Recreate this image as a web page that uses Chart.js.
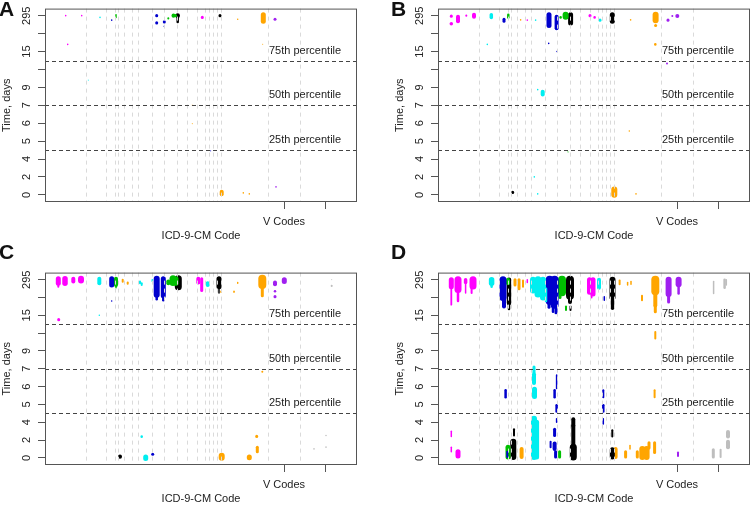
<!DOCTYPE html>
<html>
<head>
  <meta charset="UTF-8" />
  <title>Time to code by ICD-9-CM chapter</title>
  <script src="https://cdn.jsdelivr.net/npm/chart.js"></script>
  <style>
    body {
      margin: 0;
      background: #fff;
      font-family: "Liberation Sans", Arial, sans-serif;
    }

    #wrap {
      position: relative;
      width: 750px;
      height: 506px;
      overflow: hidden;
    }

    canvas {
      position: absolute;
    }

    .tag {
      position: absolute;
      font-weight: bold;
      font-size: 21px;
      line-height: 21px;
      color: #111;
    }
  </style>
</head>
<body>
  <div id="wrap">
    <canvas id="chartA" width="375" height="247" style="left:-18px;top:0"></canvas>
    <canvas id="chartB" width="375" height="247" style="left:375px;top:0"></canvas>
    <canvas id="chartC" width="375" height="246" style="left:-18px;top:264px"></canvas>
    <canvas id="chartD" width="375" height="246" style="left:375px;top:264px"></canvas>
    <div class="tag" style="left:-1px;top:-2px">A</div>
    <div class="tag" style="left:391px;top:-2px">B</div>
    <div class="tag" style="left:-1px;top:241px">C</div>
    <div class="tag" style="left:391px;top:241px">D</div>
  </div>

  <script>
    // y axis is an ordinal time scale: tick index -> label
    const yTickIdx = [0, 1, 2, 3, 4, 5, 6, 7, 8, 9, 10];
    const yTickLabels = ['0', '2', '4', '5', '6', '7', '9', '', '15', '', '295'];

    // x axis: position along the ordered ICD-9-CM codes
    const xTickVals = [239, 280];
    const xTickLabels = ['V Codes', ''];
    const codeBreaks = [41.3, 61, 69.7, 72.7, 78.7, 86.7, 93.3, 107.3, 119.3, 132, 141.7,
                        152.3, 160, 164.3, 168.3, 171.7, 175.7, 223.3, 255];

    const pctLevels = [7.5, 5, 2.5];
    const pctLabels = ['75th percentile', '50th percentile', '25th percentile'];
    const pctLabelX = 224;

    // marks: [code position, time index low, time index high, weight]
    const aMagenta = [[20.7, 10, 10, 1.5], [22.7, 8.4, 8.4, 1.5], [36.7, 10, 10, 1.5], [157.3, 9.9, 9.9, 3]];
    const aCyan = [[55, 9.9, 9.9, 1.5], [43.3, 6.4, 6.4, 1]];
    const aBlue = [[66.7, 9.75, 9.75, 1.5], [111.7, 10, 10, 3], [111.7, 9.6, 9.6, 3], [119.3, 9.65, 9.65, 3],
                   [119.3, 9.4, 9.4, 1.5], [165.7, 2.45, 2.45, 1]];
    const aGreen = [[71, 9.9, 10.05, 1.5], [123.3, 9.85, 9.85, 2], [128.5, 10, 10, 4], [130.5, 10, 10, 3]];
    const aBlack = [[132.7, 9.65, 10, 2.5], [132.7, 10, 10, 4.5], [175, 10, 10, 3]];
    const aOrange = [[192.7, 9.8, 9.8, 1.5], [218.3, 9.7, 10.05, 5], [176.7, 0.03, 0.17, 4], [198.3, 0.1, 0.1, 1.5],
                     [204.3, 0.05, 0.05, 1.5], [147.3, 3.97, 3.97, 1], [147.3, 5, 5, 1], [217.7, 8.4, 8.4, 1]];
    const aPurple = [[230, 9.8, 9.8, 3], [231, 0.44, 0.44, 1.5]];
    const aGray = [];

    const bMagenta = [[13.3, 9.97, 9.97, 3], [13.3, 9.55, 9.55, 3.5], [20, 9.7, 9.95, 4], [28.3, 10, 10, 2],
                      [36, 9.95, 10.05, 4], [152, 10, 10, 3], [156.6, 9.9, 9.9, 2.5], [89.3, 9.75, 9.75, 1.5]];
    const bCyan = [[53.3, 9.9, 10.05, 3.5], [49.3, 8.4, 8.4, 1.5], [97.6, 9.75, 9.75, 1.5], [162, 9.75, 9.75, 3],
                   [99.7, 5.87, 5.87, 1.5], [104.7, 5.6, 5.75, 4], [96.3, 1, 1, 1.5], [99.7, 0.05, 0.05, 1.5]];
    const bBlue = [[66, 9.7, 9.8, 3], [111, 9.45, 10.05, 5], [110.7, 8.45, 8.45, 1.5], [118.6, 9.3, 9.95, 4],
                   [119, 8.0, 8.0, 1.5]];
    const bGreen = [[70.3, 9.9, 10.05, 2.5], [122.6, 9.9, 9.9, 2.5], [127.6, 9.95, 10.05, 6], [130, 2.39, 2.39, 1]];
    const bBlack = [[132.6, 9.6, 10.05, 5], [174.3, 9.7, 10.05, 5], [74.7, 0.13, 0.13, 3]];
    const bOrange = [[82.6, 9.77, 9.77, 1.5], [192.6, 9.77, 9.77, 1.5], [217.6, 9.75, 10.05, 6], [217.6, 9.45, 9.45, 3],
                     [217.3, 8.4, 8.4, 2.5], [191.3, 3.56, 3.56, 1.5], [176.3, 0, 0.3, 6], [198, 0.05, 0.05, 1.5]];
    const bPurple = [[230, 9.75, 9.75, 3], [229, 7.33, 7.33, 2], [234.3, 9.98, 9.98, 2], [239.3, 9.98, 9.98, 4]];
    const bGray = [];

    const cMagenta = [[13.3, 9.8, 10.05, 5], [13.3, 9.6, 9.75, 2], [20, 9.8, 10.05, 5.5], [28.3, 9.9, 10.05, 4],
                      [36, 9.95, 10.05, 6], [13.7, 7.76, 7.76, 3], [153.3, 9.85, 10.05, 4], [156.7, 9.4, 10.05, 3]];
    const cCyan = [[54.3, 9.8, 10.05, 4], [54.3, 8.0, 8.0, 1.5], [95, 9.8, 9.9, 2], [96.7, 9.7, 9.8, 2],
                   [107.3, 9.9, 10, 1.5], [162.7, 9.7, 9.8, 4], [96.7, 1.19, 1.19, 2.5], [100.7, -0.03, 0.05, 5]];
    const cBlue = [[66.7, 9.7, 10.05, 5], [66.7, 8.8, 8.8, 1.5], [111.7, 9.15, 10.05, 6], [111.7, 8.9, 9.15, 2.5],
                   [118.3, 9.1, 10.05, 5], [118.3, 8.85, 9.1, 2.5], [107.7, 0.2, 0.2, 3]];
    const cGreen = [[71, 9.7, 10.05, 4], [71, 9.55, 9.7, 1.5], [123.3, 9.8, 9.9, 4], [128, 9.85, 10.05, 7],
                    [131, 9.8, 10.05, 5]];
    const cBlack = [[133.3, 9.6, 10.05, 7], [174, 9.6, 10.05, 5], [174, 9.25, 9.55, 1.5], [75, 0.07, 0.07, 4]];
    const cOrange = [[77.7, 9.88, 10, 2], [82.7, 9.78, 9.85, 2], [176, 9.3, 9.35, 1.5], [189, 9.3, 9.35, 1.5],
                     [192.7, 9.8, 9.85, 1.5], [217.3, 9.7, 10.05, 8], [217.3, 9.1, 9.7, 3], [217.3, 4.83, 4.83, 2],
                     [176.7, 0, 0.12, 6], [204.3, 0, 0.05, 5], [211.7, 1.2, 1.2, 3], [212.3, 0.35, 0.6, 3]];
    const cPurple = [[230, 9.75, 9.85, 4], [230, 9.35, 9.35, 2.5], [230, 9.05, 9.05, 3], [239.3, 9.9, 10, 5]];
    const cGray = [[286.7, 9.65, 9.65, 2], [286.7, 10, 10, 1], [269, 0.5, 0.5, 1.5], [281, 1.25, 1.25, 1.5],
                   [281, 0.6, 0.6, 1.5]];

    const dMagenta = [[13.3, 9.6, 10, 5], [13.3, 8.6, 9.6, 1.8], [20, 9.45, 10, 7], [20, 8.8, 9.45, 2.5],
                      [27.6, 9.85, 10, 3.5], [27.6, 9.25, 9.85, 1.5], [35, 9.65, 10, 7], [33.6, 9.25, 9.65, 2],
                      [151.5, 9.3, 10, 5], [155, 9.2, 10, 5], [153.5, 9.0, 9.3, 2], [89.3, 9.85, 10, 1.5],
                      [13.3, 1.2, 1.5, 1.5], [13.3, 0.35, 0.6, 1.5], [20, 0.1, 0.35, 5]];
    const dCyan = [[53.6, 9.8, 10, 5.5], [53.6, 9.6, 9.8, 2.5], [95, 9.4, 10, 6], [100, 9.2, 10, 7],
                   [105, 9.0, 10, 6], [108, 8.8, 9.5, 2.5], [161, 9.55, 10, 4],
                   [96, 4.8, 5.1, 3], [96, 4.2, 4.7, 4], [96.5, 3.45, 3.85, 5], [96, 1.0, 2.2, 6],
                   [96, 0.05, 1.0, 6], [98.6, 0.05, 2.0, 5]];
    const dBlue = [[65, 9.0, 10, 7], [66, 8.5, 9.0, 4], [111.7, 8.8, 10, 8], [111, 8.45, 8.8, 3],
                   [116.6, 8.6, 10, 8], [115, 8.2, 8.6, 2.5], [118, 8.15, 8.4, 3], [166.3, 8.85, 9.05, 1.5],
                   [67.6, 3.4, 3.8, 2.5], [69.3, 0.05, 0.35, 2], [118.6, 3.9, 4.65, 1.5], [116.6, 3.4, 3.8, 2.5],
                   [118.6, 2.6, 2.95, 2.5], [118.6, 2.0, 2.2, 1.5], [116.6, 1.25, 1.6, 3], [112.6, 0.6, 0.9, 2],
                   [116.6, 0.5, 0.8, 4], [117.6, 0.05, 0.35, 3], [165.3, 3.4, 3.8, 2], [165.3, 2.6, 2.95, 2.5],
                   [165.3, 1.9, 2.2, 1.5]];
    const dGreen = [[70, 9.8, 10, 4], [124, 9.3, 10, 8], [122, 9.0, 9.5, 3], [128, 8.3, 8.5, 2],
                    [70, 0.05, 0.6, 5], [121.6, 0.05, 0.35, 3]];
    const dBlack = [[71, 8.7, 10, 4.5], [71, 8.35, 8.7, 2.5], [132, 9.1, 10, 8], [132, 8.75, 9.1, 4],
                    [132.5, 8.3, 8.5, 2], [174.5, 9.0, 10, 6], [174.5, 8.4, 9.0, 3.5],
                    [75.3, 0.05, 0.9, 6], [76, 1.25, 1.6, 2], [135.3, 1.8, 2.17, 4], [135.3, 0.6, 1.8, 4],
                    [135.3, 0.05, 0.6, 7], [174.3, 1.2, 1.55, 2], [174.3, 0.05, 0.45, 5]];
    const dOrange = [[77, 9.7, 10, 3], [81, 9.5, 10, 3], [85, 9.6, 9.95, 2], [181.6, 9.75, 9.95, 2],
                     [189.6, 9.7, 9.85, 1.5], [193, 9.75, 9.9, 1.5], [204, 8.85, 9.1, 2], [217.3, 9.35, 10, 8],
                     [217.3, 8.55, 9.35, 4], [217.3, 8.2, 8.55, 3], [217.3, 6.7, 7.07, 2], [216.6, 3.4, 3.8, 2],
                     [83.6, 0.05, 0.5, 4], [177.6, 0.05, 0.5, 4], [187.6, 0.05, 0.35, 3], [192, 0.5, 0.7, 1.5],
                     [199.3, 0.05, 0.35, 3], [204.3, 0.05, 0.5, 6], [208.6, 0.05, 0.5, 6], [211, 0.55, 0.85, 3],
                     [216.6, 0.3, 0.85, 3]];
    const dPurple = [[230.6, 9.2, 10, 6], [230.6, 8.75, 9.2, 3], [240.6, 9.75, 10, 6], [240.6, 9.22, 9.7, 2.5],
                     [240, 0.1, 0.3, 2]];
    const dGray = [[275.6, 9.22, 9.9, 1.5], [286.6, 9.55, 10, 2.5], [288.3, 9.7, 10, 1.5], [275.3, 0.05, 0.45, 3],
                   [282.6, 0.05, 0.45, 2], [290, 1.2, 1.45, 4], [290, 0.6, 0.9, 4]];

    const palette = {
      magenta: '#ff00ff',
      cyan: '#00eef0',
      blue: '#0000cd',
      green: '#00c000',
      black: '#000000',
      orange: '#ffa500',
      purple: '#a020f0',
      gray: '#bebebe'
    };

    const FONT = '"Liberation Sans", Arial, sans-serif';

    function markSets(groups) {
      const sets = [];
      Object.keys(groups).forEach(key => {
        groups[key].forEach(([x, lo, hi, n]) => {
          sets.push({
            data: [{ x: x, y: lo }, { x: x, y: Math.max(hi, lo + 0.01) }],
            borderColor: palette[key],
            borderWidth: n,
            borderCapStyle: 'round',
            pointRadius: 0,
            fill: false
          });
        });
      });
      return sets;
    }

    // grid lines, percentile lines + labels, and the frame
    const overlay = {
      id: 'overlay',
      afterDatasetsDraw(chart) {
        const { ctx, chartArea: a, scales: { x, y } } = chart;
        ctx.save();
        ctx.lineWidth = 1;
        ctx.strokeStyle = '#dadada';
        ctx.setLineDash([4, 4]);
        codeBreaks.forEach(v => {
          const px = Math.round(x.getPixelForValue(v)) + 0.5;
          ctx.beginPath();
          ctx.moveTo(px, a.top);
          ctx.lineTo(px, a.bottom);
          ctx.stroke();
        });

        ctx.strokeStyle = '#444';
        ctx.lineWidth = 1.2;
        ctx.setLineDash([4, 3]);
        pctLevels.forEach(v => {
          const py = Math.round(y.getPixelForValue(v)) + 0.5;
          ctx.beginPath();
          ctx.moveTo(a.left, py);
          ctx.lineTo(a.right, py);
          ctx.stroke();
        });
        ctx.setLineDash([]);

        ctx.fillStyle = '#222';
        ctx.font = '11px ' + FONT;
        ctx.textBaseline = 'middle';
        ctx.textAlign = 'left';
        pctLevels.forEach((v, i) => {
          ctx.fillText(pctLabels[i], x.getPixelForValue(pctLabelX), y.getPixelForValue(v) - 10);
        });

        ctx.strokeStyle = '#555';
        ctx.lineWidth = 1;
        ctx.strokeRect(a.left + 0.5, a.top + 0.5, a.right - a.left - 1, a.bottom - a.top - 1);
        ctx.restore();
      }
    };

    function makeChart(id, groups) {
      return new Chart(document.getElementById(id), {
        type: 'line',
        data: { datasets: markSets(groups) },
        options: {
          responsive: false,
          animation: false,
          devicePixelRatio: 1,
          events: [],
          layout: { padding: { top: 7, right: 0, bottom: 0, left: 0 } },
          plugins: { legend: { display: false }, tooltip: { enabled: false } },
          scales: {
            x: {
              type: 'linear',
              min: 0,
              max: 312,
              afterBuildTicks: s => { s.ticks = xTickVals.map(v => ({ value: v })); },
              afterFit: s => { s.height = 45; },
              border: { display: false },
              grid: { drawOnChartArea: false, drawTicks: true, tickLength: 7, color: '#555' },
              ticks: {
                autoSkip: false,
                maxRotation: 0,
                padding: 6,
                color: '#222',
                font: { family: FONT, size: 11 },
                callback: (v, i) => xTickLabels[i]
              },
              title: {
                display: true,
                text: 'ICD-9-CM Code',
                color: '#222',
                font: { family: FONT, size: 11 },
                padding: { top: 0, bottom: 4 }
              }
            },
            y: {
              type: 'linear',
              min: -0.4,
              max: 10.4,
              afterBuildTicks: s => { s.ticks = yTickIdx.map(v => ({ value: v })); },
              afterFit: s => { s.width = 63; },
              border: { display: false },
              grid: { drawOnChartArea: false, drawTicks: true, tickLength: 7, color: '#555' },
              ticks: {
                autoSkip: false,
                minRotation: 90,
                maxRotation: 90,
                crossAlign: 'center',
                padding: 2,
                color: '#222',
                font: { family: FONT, size: 11 },
                callback: (v, i) => yTickLabels[i]
              },
              title: {
                display: true,
                text: 'Time, days',
                color: '#222',
                font: { family: FONT, size: 11 },
                padding: { top: 18, bottom: 0 }
              }
            }
          }
        },
        plugins: [overlay]
      });
    }

    makeChart('chartA', { magenta: aMagenta, cyan: aCyan, blue: aBlue, green: aGreen, black: aBlack,
                          orange: aOrange, purple: aPurple, gray: aGray });
    makeChart('chartB', { magenta: bMagenta, cyan: bCyan, blue: bBlue, green: bGreen, black: bBlack,
                          orange: bOrange, purple: bPurple, gray: bGray });
    makeChart('chartC', { magenta: cMagenta, cyan: cCyan, blue: cBlue, green: cGreen, black: cBlack,
                          orange: cOrange, purple: cPurple, gray: cGray });
    makeChart('chartD', { magenta: dMagenta, cyan: dCyan, blue: dBlue, green: dGreen, black: dBlack,
                          orange: dOrange, purple: dPurple, gray: dGray });
  </script>
</body>
</html>
